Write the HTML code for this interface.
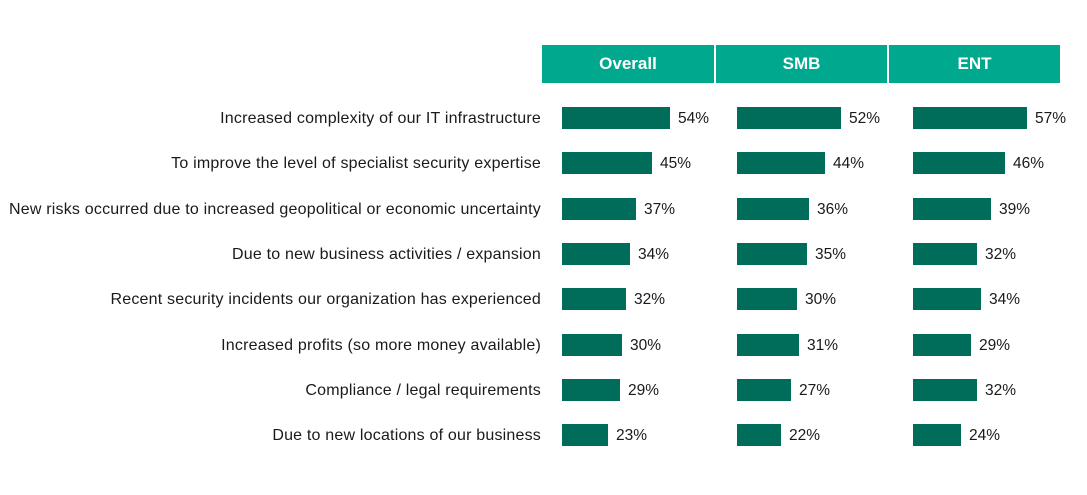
<!DOCTYPE html>
<html><head><meta charset="utf-8"><style>
body{margin:0;width:1087px;height:495px;background:#fff;position:relative;font-family:"Liberation Sans",sans-serif;overflow:hidden}
.h{position:absolute;top:45px;height:38px;background:#00A88E;color:#fff;font-weight:bold;font-size:17px;line-height:38px;text-align:center}
.l{position:absolute;right:546px;font-size:16px;letter-spacing:0.2px;color:#1a1a1a;white-space:nowrap;line-height:20px}
.b{position:absolute;height:22px;background:#006D5B}
.p{position:absolute;font-size:15.5px;color:#1a1a1a;line-height:20px}
</style></head><body>
<div class="h" style="left:542px;width:172px">Overall</div>
<div class="h" style="left:716px;width:171px">SMB</div>
<div class="h" style="left:889px;width:171px">ENT</div>
<div id="c"></div>
<script>
var rows=[["Increased complexity of our IT infrastructure",54,52,57],
["To improve the level of specialist security expertise",45,44,46],
["New risks occurred due to increased geopolitical or economic uncertainty",37,36,39],
["Due to new business activities / expansion",34,35,32],
["Recent security incidents our organization has experienced",32,30,34],
["Increased profits (so more money available)",30,31,29],
["Compliance / legal requirements",29,27,32],
["Due to new locations of our business",23,22,24]];
var xs=[562,737,913],h="";
rows.forEach(function(r,i){var cy=118+i*45.3;
h+='<div class="l" style="top:'+(cy-9)+'px">'+r[0]+'</div>';
for(var j=0;j<3;j++){var w=r[j+1]*2;
h+='<div class="b" style="left:'+xs[j]+'px;top:'+(cy-11)+'px;width:'+w+'px"></div>';
h+='<div class="p" style="left:'+(xs[j]+w+8)+'px;top:'+(cy-9)+'px">'+r[j+1]+'%</div>';}});
document.getElementById('c').innerHTML=h;
</script>
</body></html>
